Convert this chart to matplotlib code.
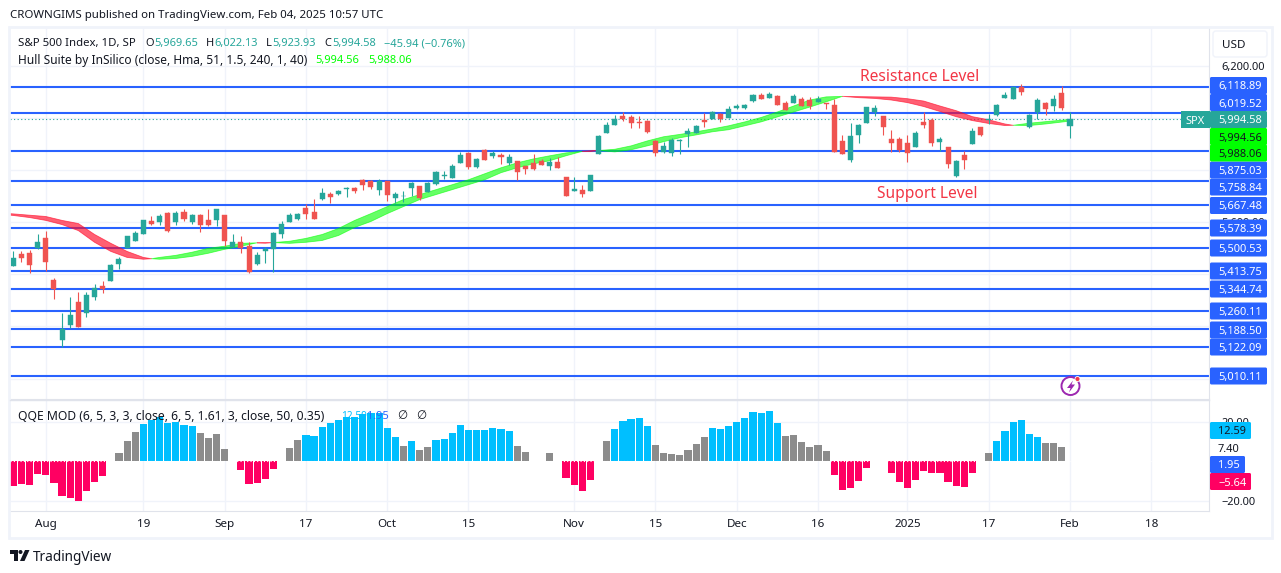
import numpy as np
import matplotlib
matplotlib.use("Agg")
import matplotlib.pyplot as plt
from matplotlib.patches import Circle, FancyBboxPatch, Polygon, Rectangle

# daily S&P 500 candles, first to last bar on the chart
opens = [5431, 5477, 5481, 5500, 5538, 5377, 5147, 5205, 5293, 5251,
         5312, 5354, 5373, 5438, 5500, 5527, 5553, 5603, 5599, 5637,
         5599, 5641, 5599, 5626, 5607, 5610, 5626, 5504, 5523, 5508,
         5438, 5488, 5496, 5553, 5599, 5614, 5656, 5641, 5690, 5709,
         5709, 5729, 5732, 5763, 5759, 5725, 5759, 5694, 5700, 5732,
         5740, 5717, 5748, 5778, 5771, 5828, 5866, 5813, 5878, 5855,
         5859, 5828, 5836, 5817, 5828, 5836, 5817, 5832, 5775, 5721,
         5725, 5721, 5863, 5943, 5974, 6008, 6004, 5985, 5989, 5912,
         5870, 5866, 5912, 5939, 5943, 5993, 5997, 6016, 6000, 6039,
         6039, 6065, 6088, 6077, 6085, 6058, 6058, 6073, 6069, 6062,
         6058, 6050, 5912, 5840, 5935, 5981, 6023, 6008, 5920, 5920,
         5905, 5889, 5985, 5993, 5909, 5889, 5778, 5859, 5901, 5966,
         5993, 6012, 6077, 6073, 6119, 5966, 6023, 6058, 6046, 6096, 5969.65]
highs = [5488, 5488, 5492, 5553, 5568, 5385, 5251, 5312, 5331, 5331,
         5362, 5373, 5438, 5465, 5546, 5565, 5610, 5622, 5633, 5641,
         5645, 5652, 5633, 5630, 5649, 5652, 5626, 5553, 5549, 5523,
         5485, 5504, 5561, 5603, 5637, 5637, 5671, 5690, 5732, 5717,
         5725, 5735, 5736, 5767, 5763, 5767, 5759, 5717, 5721, 5755,
         5740, 5755, 5798, 5798, 5824, 5870, 5870, 5847, 5882, 5874,
         5866, 5863, 5836, 5817, 5863, 5843, 5847, 5851, 5775, 5775,
         5744, 5782, 5935, 5985, 6012, 6023, 6012, 6008, 5993, 5916,
         5909, 5924, 5920, 5962, 5974, 6020, 6027, 6020, 6046, 6054,
         6054, 6092, 6096, 6100, 6088, 6065, 6092, 6081, 6081, 6085,
         6058, 6073, 5935, 5981, 5977, 6042, 6050, 6008, 5955, 5928,
         5935, 5951, 6023, 6000, 5928, 5889, 5840, 5874, 5962, 5966,
         6016, 6054, 6100, 6119, 6130, 6016, 6077, 6062, 6088, 6123, 6022.13]
lows = [5431, 5446, 5404, 5496, 5412, 5304, 5121, 5194, 5197, 5236,
        5301, 5327, 5373, 5419, 5500, 5527, 5553, 5591, 5591, 5561,
        5588, 5603, 5595, 5561, 5584, 5584, 5508, 5504, 5481, 5404,
        5435, 5442, 5408, 5538, 5599, 5607, 5614, 5614, 5687, 5675,
        5706, 5698, 5713, 5725, 5729, 5706, 5683, 5675, 5679, 5702,
        5687, 5717, 5744, 5767, 5771, 5828, 5805, 5809, 5840, 5847,
        5824, 5821, 5763, 5786, 5801, 5821, 5801, 5809, 5702, 5721,
        5698, 5721, 5863, 5943, 5974, 5989, 5962, 5962, 5943, 5855,
        5866, 5855, 5863, 5889, 5943, 5966, 5997, 5985, 6000, 6035,
        6035, 6062, 6073, 6077, 6050, 6031, 6058, 6046, 6035, 6062,
        6035, 5870, 5863, 5832, 5905, 5981, 6008, 5935, 5870, 5870,
        5832, 5889, 5962, 5893, 5874, 5809, 5775, 5805, 5901, 5932,
        5977, 6008, 6077, 6073, 6088, 5962, 5997, 6012, 6027, 6031, 5923.93]
closes = [5461, 5461, 5435, 5523, 5446, 5343, 5190, 5243, 5197, 5320,
          5346, 5343, 5435, 5458, 5546, 5557, 5610, 5595, 5622, 5568,
          5637, 5614, 5626, 5591, 5588, 5649, 5527, 5523, 5500, 5408,
          5473, 5496, 5557, 5595, 5626, 5633, 5633, 5614, 5713, 5698,
          5721, 5732, 5721, 5744, 5736, 5759, 5706, 5709, 5702, 5752,
          5694, 5752, 5794, 5782, 5817, 5859, 5813, 5843, 5840, 5866,
          5851, 5851, 5794, 5805, 5805, 5821, 5832, 5809, 5702, 5729,
          5709, 5782, 5932, 5974, 5997, 5997, 5981, 5981, 5947, 5866,
          5893, 5916, 5916, 5951, 5970, 5985, 6023, 5997, 6035, 6046,
          6050, 6088, 6073, 6092, 6050, 6031, 6085, 6046, 6046, 6073,
          6054, 5870, 5863, 5932, 5974, 6042, 6039, 5966, 5905, 5878,
          5866, 5943, 5974, 5905, 5920, 5824, 5836, 5840, 5951, 5935,
          5997, 6050, 6088, 6119, 6100, 6012, 6069, 6035, 6073, 6039, 5994.58]

# Hull Suite ribbon, read every couple of bars
hull_bars = [0, 1, 3, 5, 7, 9, 11, 13, 15, 17, 18, 19, 21, 23, 25, 27, 29, 31, 32, 33,
             35, 37, 39, 41, 43, 45, 47, 49, 51, 53, 55, 57, 59, 61, 63, 65, 67, 69, 71, 72, 73,
             75, 77, 79, 81, 83, 85, 87, 89, 91, 93, 95, 97, 99, 101, 103, 105, 107, 109, 111,
             113, 115, 117, 119, 121, 123, 124, 126, 128, 131]
hull_main = [5629, 5626, 5618, 5607, 5591, 5568, 5523, 5488, 5465, 5458, 5460, 5465, 5473, 5485, 5500, 5508, 5519, 5521, 5520, 5522,
             5527, 5538, 5553, 5576, 5607, 5633, 5660, 5687, 5706, 5725, 5744, 5763, 5786, 5809, 5828, 5843, 5855, 5866, 5872, 5872, 5875,
             5880, 5893, 5912, 5928, 5937, 5947, 5958, 5970, 5985, 6002, 6023, 6046, 6069, 6081, 6083, 6078, 6075, 6069, 6059,
             6044, 6025, 6005, 5990, 5979, 5971, 5972, 5980, 5986, 5994.56]
hull_shift = [5634, 5632, 5627, 5622, 5607, 5595, 5553, 5519, 5488, 5465, 5460, 5458, 5461, 5469, 5481, 5496, 5508, 5521, 5521, 5522,
              5519, 5523, 5530, 5549, 5580, 5603, 5633, 5660, 5687, 5706, 5725, 5744, 5763, 5790, 5809, 5824, 5836, 5855, 5872, 5874, 5875,
              5870, 5878, 5893, 5909, 5924, 5935, 5947, 5955, 5970, 5985, 6004, 6023, 6042, 6062, 6083, 6082, 6081, 6080, 6074,
              6065, 6046, 6028, 6005, 5993, 5977, 5972, 5971, 5977, 5988.06]

# horizontal levels drawn on the chart
levels = [6118.89, 6019.52, 5875.03, 5758.84, 5667.48, 5578.39, 5500.53,
          5413.75, 5344.74, 5260.11, 5188.50, 5122.09, 5010.11]
price_ticks = [6200, 6000, 5800, 5600, 5400, 5200, 5000]
price_tick_labels = ["6,200.00", "", "", "5,600.00", "", "5,200.00", ""]

# QQE MOD histogram, 0 where no bar is drawn
qqe_values = [-12.6, -11.6, -12.1, -6.5, -7.0, -11.1, -17.8, -18.8, -20.3, -15.2,
              -10.6, -7.5, 0, 4.3, 10.4, 15.0, 19.1, 21.2, 22.7, 19.7,
              20.2, 18.6, 18.1, 14.5, 12.0, 14.0, 6.3, 0, -4.4, -11.6,
              -11.1, -9.1, -3.9, 0, 6.8, 10.9, 13.5, 13.0, 17.6, 19.7,
              21.2, 22.7, 22.7, 24.3, 24.8, 24.8, 17.1, 12.5, 7.9, 10.4,
              5.8, 7.4, 10.9, 11.5, 14.5, 18.6, 16.1, 16.1, 16.1, 17.1,
              16.6, 15.6, 7.9, 4.8, 0, 0, 4.3, 0, -8.5, -12.1,
              -15.2, -9.6, 0, 10.4, 16.6, 20.7, 21.7, 22.2, 18.1, 8.4,
              4.3, 3.8, 3.2, 5.8, 8.9, 12.5, 17.1, 16.6, 18.1, 20.2,
              22.2, 25.3, 24.8, 25.8, 19.7, 13.0, 13.5, 9.9, 7.4, 8.4,
              5.3, -7.0, -14.7, -13.7, -10.1, -3.4, 0, 0, -6.0, -10.6,
              -13.7, -9.6, -5.0, -6.0, -6.0, -10.6, -12.6, -13.2, -6.0, 0,
              4.3, 10.4, 15.6, 20.2, 21.2, 14.0, 12.5, 9.4, 9.4, 7.4, 0]
qqe_state = ("r" * 12 + "-" + "g" * 3 + "b" * 7 + "g" * 4 + "-" + "r" * 5 + "-" + "g" * 2
             + "b" * 12 + "g" + "b" + "g" * 2 + "b" * 10 + "g" * 2 + "--" + "g" + "-" + "r" * 4
             + "-" + "g" + "b" * 5 + "g" * 7 + "b" * 9 + "g" * 6 + "r" * 5 + "--" + "r" * 11
             + "-" + "g" + "b" * 6 + "g" * 3 + "-")
qqe_ticks = [20, -20]
qqe_tick_labels = ["20.00", "\u221220.00"]

date_bars = [5, 17, 27, 37, 47, 57, 70, 80, 90, 100, 111, 121, 131, 141]
date_labels = ["Aug", "19", "Sep", "17", "Oct", "15", "Nov", "15", "Dec", "16", "2025", "17", "Feb", "18"]

W, H = 1281, 573
TEAL = "#26a69a"
RED = "#ef5350"
BLUE = "#2962ff"
LIME = "#00ff00"
GRID = "#f0f3fa"
EDGE = "#e0e3eb"
INK = "#131722"
NUM_SIZE = 7.95
QQE_COLORS = {"r": "#ff0062", "g": "#8c8c8c", "b": "#00bfff", "-": "none"}

plt.rcParams["font.family"] = ["Noto Sans", "DejaVu Sans"]
plt.rcParams["font.size"] = 8.4


def px_axes(fig, left, top, right, bottom):
    return fig.add_axes([left / W, 1 - bottom / H, (right - left) / W, (bottom - top) / H])


def draw_candles(ax):
    bars = np.arange(1, len(opens) + 1)
    o, h, l, c = map(np.array, (opens, highs, lows, closes))
    colors = np.where(c >= o, TEAL, RED)
    ax.vlines(bars, l, h, colors=colors, lw=0.8, zorder=3)
    ax.bar(bars, np.abs(c - o), bottom=np.minimum(o, c), width=0.62, color=colors,
           edgecolor=colors, lw=0.3, zorder=4)


def draw_main(ax):
    ax.set_xlim(0.594, 148.1)
    ax.set_ylim(6118.89 - 3.837 * (399 - 87), 6118.89 + 3.837 * (87 - 28))
    ax.hlines(levels, 0, 150, colors=BLUE, lw=1.5, zorder=1)
    ax.axhline(closes[-1], color=TEAL, lw=0.8, ls=(0, (1, 2.2)), zorder=1)

    main, shift = np.array(hull_main), np.array(hull_shift)
    ax.fill_between(hull_bars, main, shift, where=main >= shift, interpolate=True,
                    color=LIME, alpha=0.6, lw=0.6, zorder=2)
    ax.fill_between(hull_bars, main, shift, where=main <= shift, interpolate=True,
                    color="#ff0a28", alpha=0.65, lw=0.6, zorder=2)
    draw_candles(ax)

    ax.set_xticks(date_bars)
    ax.set_yticks(price_ticks)
    ax.set_yticklabels(price_tick_labels, color=INK, fontsize=NUM_SIZE)
    ax.yaxis.tick_right()
    ax.tick_params(length=0, labelbottom=False, pad=9)
    ax.grid(color=GRID, lw=1)
    ax.set_axisbelow(True)
    for side, spine in ax.spines.items():
        spine.set_color(EDGE)
        spine.set_visible(side in ("right", "bottom"))


def draw_qqe(ax):
    bars = np.arange(1, len(qqe_values) + 1)
    ax.set_xlim(0.594, 148.1)
    ax.set_ylim(-25.3, 31.4)
    ax.bar(bars, qqe_values, width=0.88, color=[QQE_COLORS[s] for s in qqe_state], lw=0, zorder=2)
    ax.axhline(0, color="white", lw=0.8, ls=(0, (1, 2)), zorder=3)
    ax.set_xticks(date_bars)
    ax.set_xticklabels(date_labels, color=INK)
    ax.get_xticklabels()[10].set_fontweight("bold")
    ax.set_yticks(qqe_ticks)
    ax.set_yticklabels(qqe_tick_labels, color=INK, fontsize=NUM_SIZE)
    ax.yaxis.tick_right()
    ax.tick_params(length=0, pad=9)
    ax.tick_params(axis="x", pad=6)
    ax.grid(color=GRID, lw=1)
    ax.set_axisbelow(True)
    for side, spine in ax.spines.items():
        spine.set_color(EDGE)
        spine.set_visible(side in ("right", "bottom"))


def scale_label(ov, text, y, color, ink="white", right=1267):
    ov.add_patch(FancyBboxPatch((1210, y - 8.5), right - 1210, 17, boxstyle="round,pad=0,rounding_size=1.5",
                                fc=color, ec="none", zorder=2))
    ov.text(1218, y, text, color=ink, fontsize=NUM_SIZE, va="center_baseline", ha="left", zorder=3)


def draw_overlay(ov):
    ov.set_xlim(0, W)
    ov.set_ylim(H, 0)
    ov.axis("off")
    ov.patch.set_alpha(0)

    # frame round the chart
    ov.add_patch(Rectangle((9, 26.5), 1263, 511, fc="none", ec=GRID, lw=2, zorder=1))
    ov.plot([10, 1209], [399.5, 399.5], color=EDGE, lw=1, zorder=1)

    ov.text(10, 14, "CROWNGIMS published on TradingView.com, Feb 04, 2025 10:57 UTC", color=INK,
            fontsize=8.25, va="center_baseline")

    ov.text(18, 42, "S&P 500 Index, 1D, SP", color=INK, fontsize=8.2, va="center_baseline")
    for x, s, col in [(145, "O", INK), (154, "5,969.65", TEAL), (206, "H", INK), (214, "6,022.13", TEAL),
                      (266, "L", INK), (272, "5,923.93", TEAL), (324, "C", INK), (332, "5,994.58", TEAL),
                      (384, "\u221245.94 (\u22120.76%)", TEAL)]:
        ov.text(x, 42, s, color=col, fontsize=NUM_SIZE, va="center_baseline")
    ov.text(18, 59, "Hull Suite by InSilico (close, Hma, 51, 1.5, 240, 1, 40)", color=INK,
            fontsize=8.6, va="center_baseline")
    ov.text(315, 59, "5,994.56", color=LIME, fontsize=NUM_SIZE, va="center_baseline")
    ov.text(368, 59, "5,988.06", color=LIME, fontsize=NUM_SIZE, va="center_baseline")

    ov.text(18, 415, "QQE MOD (6, 5, 3, 3, close, 6, 5, 1.61, 3, close, 50, 0.35)", color=INK,
            fontsize=8.75, va="center_baseline")
    ov.text(341, 415, "12.59", color="#00bfff", fontsize=7.2, va="center_baseline")
    ov.text(367, 415, "1.95", color=BLUE, fontsize=NUM_SIZE, va="center_baseline")
    ov.text(397, 415, "\u2205", color=INK, va="center_baseline")
    ov.text(416, 415, "\u2205", color=INK, va="center_baseline")

    ov.text(920, 75, "Resistance Level", color="#f23645", fontsize=11.2, ha="center", va="center_baseline")
    ov.text(927, 192, "Support Level", color="#f23645", fontsize=11.2, ha="center", va="center_baseline")

    # price scale flags, pushed apart where they would overlap
    level_label_y = [85.5, 102.5, 170, 187, 205.5, 228, 248, 271, 289, 311, 330, 347, 376]
    for value, y in zip(levels, level_label_y):
        scale_label(ov, f"{value:,.2f}", y, BLUE)
    ov.add_patch(Rectangle((1181, 111), 29, 17, fc=TEAL, ec="none", zorder=2))
    ov.text(1185, 119.5, "SPX", color="white", fontsize=NUM_SIZE, va="center_baseline", zorder=3)
    scale_label(ov, f"{closes[-1]:,.2f}", 119.5, TEAL)
    scale_label(ov, f"{hull_main[-1]:,.2f}", 136.5, LIME, INK)
    scale_label(ov, f"{hull_shift[-1]:,.2f}", 153, LIME, INK)

    scale_label(ov, "12.59", 430.5, "#00bfff", INK, right=1251)
    scale_label(ov, "1.95", 464.5, BLUE, right=1245)
    scale_label(ov, "\u22125.64", 481.5, "#ff0062", right=1251)
    ov.text(1218, 448, "7.40", color=INK, fontsize=NUM_SIZE, va="center_baseline", zorder=3)

    ov.add_patch(FancyBboxPatch((1213, 31), 54, 26, boxstyle="round,pad=0,rounding_size=3",
                                fc="white", ec=GRID, lw=1, zorder=2))
    ov.text(1222, 44, "USD", color=INK, va="center_baseline", zorder=3)

    # purple marker above the last bars
    ov.add_patch(Circle((1070.5, 386), 9, fc="white", ec="#9c27b0", lw=1.4, zorder=3))
    ov.add_patch(Polygon([(1073, 380.5), (1067, 388), (1070.5, 388), (1069, 392.5), (1075, 384.5), (1071.5, 384.5)],
                         fc="#9c27b0", ec="none", zorder=4))
    ov.add_patch(Circle((1077.5, 379), 2.5, fc="#f23645", ec="white", lw=0.6, zorder=5))

    # TradingView mark and name
    ov.add_patch(Polygon([(10, 550), (18, 550), (18, 561), (14, 561), (14, 554), (10, 554)], fc=INK, ec="none"))
    ov.add_patch(Circle((20.5, 552), 2, fc=INK, ec="none"))
    ov.add_patch(Polygon([(25, 550), (29.5, 550), (24.5, 561), (20, 561)], fc=INK, ec="none"))
    ov.text(33, 555.5, "TradingView", color=INK, fontsize=9.8, va="center_baseline")


def main():
    fig = plt.figure(figsize=(W / 100, H / 100), dpi=100)
    ax = px_axes(fig, 10, 28, 1209, 399)
    ax_qqe = px_axes(fig, 10, 400, 1209, 511)
    ov = fig.add_axes([0, 0, 1, 1], zorder=10)
    draw_main(ax)
    draw_qqe(ax_qqe)
    draw_overlay(ov)
    fig.savefig("out.png", dpi=100)


if __name__ == "__main__":
    main()
